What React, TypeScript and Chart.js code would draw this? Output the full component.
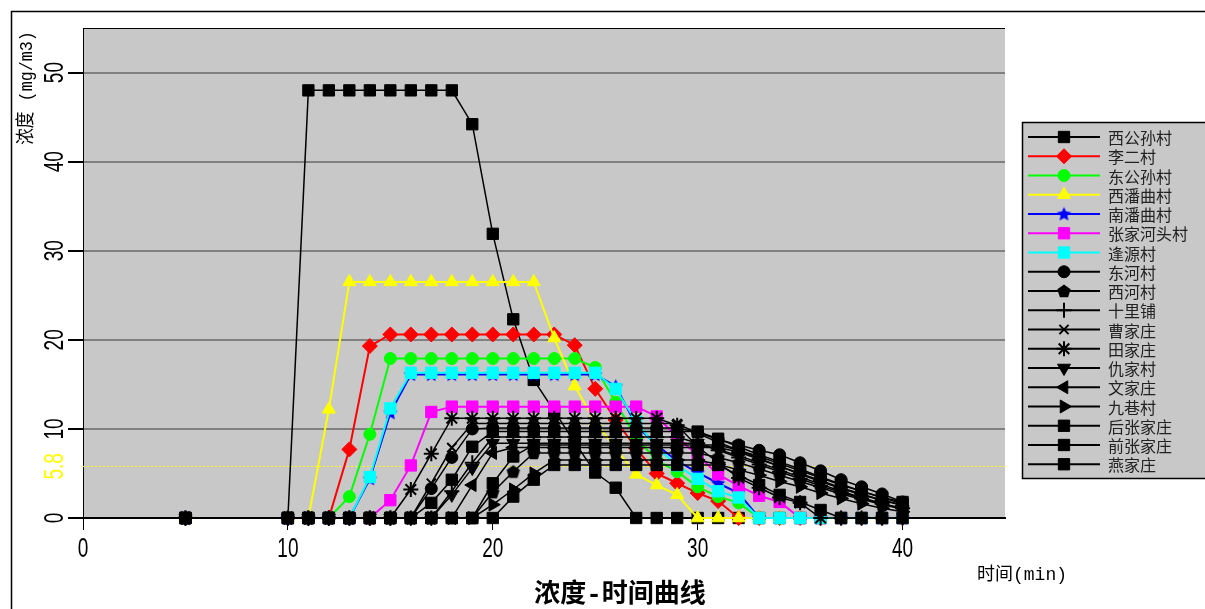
import React, { useEffect, useRef } from 'react';
import { Chart, registerables } from 'chart.js';
import { drawPoint } from 'chart.js/helpers';

Chart.register(...registerables);

// ---------- data ----------
const TIMES = [5, 10, 11, 12, 13, 14, 15, 16, 17, 18, 19, 20, 21, 22, 23, 24, 25, 26, 27, 28, 29, 30, 31, 32, 33, 34, 35, 36, 37, 38, 39, 40];
const X_TICKS = [0, 10, 20, 30, 40];
const Y_TICKS = [0, 10, 20, 30, 40, 50];
const THRESHOLD = 5.8;
const THRESHOLD_LABEL = '5.8';
const CHART_TITLE = '浓度-时间曲线';
const Y_TITLE = '浓度 (mg/m3)';
const X_TITLE = '时间(min)';

const XIGONGSUN = [0, 0, 48, 48, 48, 48, 48, 48, 48, 48, 44.2, 31.9, 22.3, 15.5, 12.0, 8.5, 5.1, 3.4, 0, 0, 0, 0, 0, 0, 0, 0, 0, 0, 0, 0, 0, 0];
const LIER = [0, 0, 0, 0, 7.7, 19.3, 20.6, 20.6, 20.6, 20.6, 20.6, 20.6, 20.6, 20.6, 20.6, 19.4, 14.5, 11.0, 7.8, 5.0, 3.9, 2.8, 1.9, 0, 0, 0, 0, 0, 0, 0, 0, 0];
const DONGGONGSUN = [0, 0, 0, 0, 2.4, 9.4, 17.9, 17.9, 17.9, 17.9, 17.9, 17.9, 17.9, 17.9, 17.9, 17.9, 16.9, 13.0, 9.0, 6.5, 5.2, 3.5, 2.4, 1.7, 0, 0, 0, 0, 0, 0, 0, 0];
const XIPANQU = [0, 0, 0, 12.2, 26.5, 26.5, 26.5, 26.5, 26.5, 26.5, 26.5, 26.5, 26.5, 26.5, 20.2, 14.8, 10.8, 7.8, 4.9, 3.7, 2.6, 0, 0, 0, 0, 0, 0, 0, 0, 0, 0, 0];
const NANPANQU = [0, 0, 0, 0, 0, 4.4, 11.8, 16.1, 16.1, 16.1, 16.1, 16.1, 16.1, 16.1, 16.1, 16.1, 16.1, 14.8, 10.4, 8.2, 6.4, 5.1, 3.9, 2.8, 0, 0, 0, 0, 0, 0, 0, 0];
const ZHANGJIAHETOU = [0, 0, 0, 0, 0, 0, 2.0, 5.9, 11.9, 12.5, 12.5, 12.5, 12.5, 12.5, 12.5, 12.5, 12.5, 12.5, 12.5, 11.4, 9.1, 7.0, 4.9, 3.6, 2.5, 1.8, 0, 0, 0, 0, 0, 0];
const FENGYUAN = [0, 0, 0, 0, 0, 4.6, 12.3, 16.3, 16.3, 16.3, 16.3, 16.3, 16.3, 16.3, 16.3, 16.3, 16.3, 14.5, 10.8, 7.9, 5.9, 4.4, 3.0, 2.3, 0, 0, 0, 0, 0, 0, 0, 0];
const DONGHE = [0, 0, 0, 0, 0, 0, 0, 0, 3.3, 6.8, 10.0, 10.1, 10.1, 10.1, 10.1, 10.1, 10.1, 10.1, 10.1, 10.1, 10.1, 9.6, 8.8, 8.2, 7.6, 7.1, 6.2, 5.3, 4.3, 3.5, 2.7, 1.8];
const XIHE = [0, 0, 0, 0, 0, 0, 0, 0, 0, 0, 0, 2.9, 5.2, 7.3, 7.3, 7.3, 7.3, 7.3, 7.3, 7.3, 7.3, 7.3, 6.8, 6.2, 5.5, 4.8, 4.1, 3.4, 2.7, 2.1, 1.5, 1.0];
const SHILIPU = [0, 0, 0, 0, 0, 0, 0, 0, 0, 3.0, 6.2, 9.1, 9.1, 9.1, 9.1, 9.1, 9.1, 9.1, 9.1, 9.1, 9.1, 8.4, 7.6, 6.8, 6.0, 5.2, 4.4, 3.6, 2.9, 2.2, 1.6, 1.1];
const CAOJIA = [0, 0, 0, 0, 0, 0, 0, 0, 3.9, 7.9, 10.6, 10.6, 10.6, 10.6, 10.6, 10.6, 10.6, 10.6, 10.6, 10.6, 10.6, 9.5, 8.5, 7.6, 6.7, 5.8, 4.9, 4.1, 3.3, 2.6, 2.0, 1.5];
const TIANJIA = [0, 0, 0, 0, 0, 0, 0, 3.2, 7.2, 11.2, 11.2, 11.2, 11.2, 11.2, 11.2, 11.2, 11.2, 11.2, 11.2, 11.2, 10.4, 8.0, 6.2, 4.5, 3.4, 2.3, 1.7, 0, 0, 0, 0, 0];
const QIUJIA = [0, 0, 0, 0, 0, 0, 0, 0, 0, 2.6, 5.6, 8.4, 8.4, 8.4, 8.4, 8.4, 8.4, 8.4, 8.4, 8.4, 8.4, 8.4, 7.7, 7.0, 6.2, 5.4, 4.6, 3.8, 3.0, 2.3, 1.6, 1.0];
const WENJIA = [0, 0, 0, 0, 0, 0, 0, 0, 0, 0, 3.7, 7.3, 7.9, 7.9, 7.9, 7.9, 7.9, 7.9, 7.9, 7.9, 7.9, 7.9, 7.9, 7.4, 6.6, 5.8, 5.0, 4.2, 3.4, 2.7, 2.0, 1.4];
const JIUXIANG = [0, 0, 0, 0, 0, 0, 0, 0, 0, 0, 0, 1.5, 3.2, 5.0, 6.5, 6.5, 6.5, 6.5, 6.5, 6.5, 6.5, 6.5, 6.0, 5.4, 4.8, 4.1, 3.5, 2.8, 2.2, 1.6, 1.1, 0.7];
const HOUZHANGJIA = [0, 0, 0, 0, 0, 0, 0, 0, 1.7, 4.3, 8.0, 9.7, 9.7, 9.7, 9.7, 9.7, 9.7, 9.7, 9.7, 9.7, 9.7, 9.7, 8.9, 8.0, 7.1, 6.3, 5.5, 4.6, 3.8, 3.0, 2.3, 1.8];
const QIANZHANGJIA = [0, 0, 0, 0, 0, 0, 0, 0, 0, 0, 0, 3.9, 6.9, 8.2, 8.2, 8.2, 8.2, 8.2, 8.2, 8.2, 8.2, 8.2, 8.2, 7.6, 6.9, 6.1, 5.3, 4.5, 3.7, 3.0, 2.3, 1.6];
const YANJIA = [0, 0, 0, 0, 0, 0, 0, 0, 0, 0, 0, 0, 2.4, 4.3, 5.95, 5.95, 5.95, 5.95, 5.95, 5.95, 5.95, 5.95, 5.95, 4.8, 3.7, 2.6, 1.8, 0.9, 0, 0, 0, 0];

const SERIES_NAMES = ['西公孙村', '李二村', '东公孙村', '西潘曲村', '南潘曲村', '张家河头村', '逢源村', '东河村', '西河村', '十里铺', '曹家庄', '田家庄', '仇家村', '文家庄', '九巷村', '后张家庄', '前张家庄', '燕家庄'];
const SERIES_VALUES = [XIGONGSUN, LIER, DONGGONGSUN, XIPANQU, NANPANQU, ZHANGJIAHETOU, FENGYUAN, DONGHE, XIHE, SHILIPU, CAOJIA, TIANJIA, QIUJIA, WENJIA, JIUXIANG, HOUZHANGJIA, QIANZHANGJIA, YANJIA];
const SERIES_COLORS = ['#000000', '#ff0000', '#00ff00', '#ffff00', '#0000ff', '#ff00ff', '#00ffff', '#000000', '#000000', '#000000', '#000000', '#000000', '#000000', '#000000', '#000000', '#000000', '#000000', '#000000'];
const SERIES_MARKERS = ['rect', 'rectRot', 'circle', 'triangle', 'fillstar', 'rect', 'rect', 'circle', 'pentagon', 'cross', 'crossRot', 'star', 'triangle', 'triangle', 'triangle', 'rect', 'rect', 'rect'];
const SERIES_ROTATIONS = [0, 0, 0, 0, 0, 0, 0, 0, 0, 0, 0, 0, 180, 270, 90, 0, 0, 0];

// ---------- style ----------
const PLOT_BG = '#c8c8c8';
const GRID_COLOR = '#808080';

function markerRadius(style: string): number {
  switch (style) {
    case 'rect': return 8;
    case 'rectRot': return 7.5;
    case 'circle': return 6;
    case 'triangle': return 7.5;
    case 'cross': return 7.5;
    case 'crossRot': return 6.5;
    case 'star': return 7.5;
    default: return 6;
  }
}

function markerBorder(style: string): number {
  return style === 'cross' || style === 'crossRot' || style === 'star' ? 2 : 1;
}

function makeFilledStar(color: string, r: number): HTMLCanvasElement {
  const size = Math.ceil(r * 2 + 2);
  const c = document.createElement('canvas');
  c.width = size;
  c.height = size;
  const g = c.getContext('2d')!;
  g.fillStyle = color;
  g.beginPath();
  for (let i = 0; i < 10; i++) {
    const a = -Math.PI / 2 + (i * Math.PI) / 5;
    const rr = i % 2 === 0 ? r : r * 0.48;
    const px = size / 2 + Math.cos(a) * rr;
    const py = size / 2 + Math.sin(a) * rr + 0.5;
    if (i === 0) g.moveTo(px, py);
    else g.lineTo(px, py);
  }
  g.closePath();
  g.fill();
  return c;
}

function makePentagon(color: string, r: number): HTMLCanvasElement {
  const size = Math.ceil(r * 2 + 2);
  const c = document.createElement('canvas');
  c.width = size;
  c.height = size;
  const g = c.getContext('2d')!;
  g.fillStyle = color;
  g.beginPath();
  for (let i = 0; i < 5; i++) {
    const a = -Math.PI / 2 + (i * 2 * Math.PI) / 5;
    const px = size / 2 + Math.cos(a) * r;
    const py = size / 2 + Math.sin(a) * r + 0.5;
    if (i === 0) g.moveTo(px, py);
    else g.lineTo(px, py);
  }
  g.closePath();
  g.fill();
  return c;
}

function condensedText(ctx: CanvasRenderingContext2D, text: string, x: number, y: number, rot: number, sx: number) {
  ctx.save();
  ctx.translate(x, y);
  ctx.rotate(rot);
  ctx.scale(sx, 1);
  ctx.fillText(text, 0, 0);
  ctx.restore();
}

export default function App() {
  const canvasRef = useRef<HTMLCanvasElement | null>(null);

  useEffect(() => {
    const canvas = canvasRef.current;
    if (!canvas) return;

    const starImg = makeFilledStar('#0000ff', 7.5);
    const pentImg = makePentagon('#000000', 7);
    const resolveStyle = (s: string): any => (s === 'fillstar' ? starImg : s === 'pentagon' ? pentImg : s);

    const datasets = SERIES_NAMES.map((name, i) => {
      const color = SERIES_COLORS[i];
      const marker = SERIES_MARKERS[i];
      return {
        label: name,
        data: TIMES.map((t, j) => ({ x: t, y: SERIES_VALUES[i][j] })),
        borderColor: color,
        backgroundColor: color,
        pointBackgroundColor: color,
        pointBorderColor: color,
        pointStyle: resolveStyle(marker),
        pointRadius: markerRadius(marker),
        pointRotation: SERIES_ROTATIONS[i],
        pointBorderWidth: markerBorder(marker),
        borderWidth: color === '#000000' ? 1.5 : 2,
        tension: 0,
        clip: false as any,
        order: -i,
      };
    });

    const decor = {
      id: 'decor',
      beforeDraw(chart: any) {
        const { ctx, chartArea: a } = chart;
        ctx.save();
        ctx.fillStyle = '#ffffff';
        ctx.fillRect(0, 0, chart.width, chart.height);
        ctx.fillStyle = PLOT_BG;
        ctx.fillRect(a.left, a.top, a.right - a.left, a.bottom - a.top);
        ctx.restore();
      },
      beforeDatasetsDraw(chart: any) {
        const { ctx, chartArea: a, scales } = chart;
        const y = Math.round(scales.y.getPixelForValue(THRESHOLD)) + 0.5;
        ctx.save();
        ctx.strokeStyle = '#ffff00';
        ctx.lineWidth = 1;
        ctx.setLineDash([2, 2]);
        ctx.beginPath();
        ctx.moveTo(a.left, y);
        ctx.lineTo(a.right, y);
        ctx.stroke();
        ctx.setLineDash([]);
        ctx.strokeStyle = '#000000';
        ctx.beginPath();
        ctx.moveTo(a.left, a.top + 0.5);
        ctx.lineTo(a.right, a.top + 0.5);
        ctx.stroke();
        ctx.restore();
      },
      afterDraw(chart: any) {
        const { ctx, chartArea: a, scales } = chart;
        ctx.save();
        // y tick labels (rotated, condensed)
        ctx.fillStyle = '#000000';
        ctx.font = '28px "Liberation Sans", Arial, sans-serif';
        ctx.textAlign = 'center';
        ctx.textBaseline = 'alphabetic';
        Y_TICKS.forEach((v) => {
          condensedText(ctx, String(v), 63, scales.y.getPixelForValue(v), -Math.PI / 2, 0.68);
        });
        ctx.fillStyle = '#ffff00';
        condensedText(ctx, THRESHOLD_LABEL, 63, scales.y.getPixelForValue(THRESHOLD), -Math.PI / 2, 0.68);
        // x tick labels
        ctx.fillStyle = '#000000';
        X_TICKS.forEach((v) => {
          condensedText(ctx, String(v), scales.x.getPixelForValue(v), a.bottom + 39, 0, 0.68);
        });
        // y title
        ctx.font = '19px "Liberation Mono", "Noto Sans CJK SC", monospace';
        ctx.textAlign = 'center';
        ctx.textBaseline = 'middle';
        ctx.save();
        ctx.translate(27, 88);
        ctx.rotate(-Math.PI / 2);
        ctx.scale(0.88, 1);
        ctx.fillText(Y_TITLE, 0, 0);
        ctx.restore();
        // x title
        ctx.font = '18px "Liberation Mono", "Noto Sans CJK SC", monospace';
        ctx.textAlign = 'left';
        ctx.fillText(X_TITLE, 977, 575);
        // chart title
        ctx.font = 'bold 26px "Liberation Mono", "Noto Sans CJK SC", monospace';
        ctx.textAlign = 'center';
        ctx.fillText(CHART_TITLE, 620, 595);

        // legend
        const lx = 1022, ly = 122, lh = 356;
        ctx.fillStyle = PLOT_BG;
        ctx.fillRect(lx, ly, 400, lh);
        ctx.strokeStyle = '#000000';
        ctx.lineWidth = 1.5;
        ctx.strokeRect(lx + 0.5, ly + 0.5, 400, lh);
        const rowH = 19.25;
        chart.data.datasets.forEach((ds: any, i: number) => {
          const y = ly + 15 + i * rowH;
          ctx.strokeStyle = ds.borderColor;
          ctx.lineWidth = 2;
          ctx.beginPath();
          ctx.moveTo(1028, y);
          ctx.lineTo(1100, y);
          ctx.stroke();
          ctx.fillStyle = ds.pointBackgroundColor;
          ctx.strokeStyle = ds.pointBorderColor;
          ctx.lineWidth = ds.pointBorderWidth;
          drawPoint(ctx, { pointStyle: ds.pointStyle, radius: ds.pointRadius, rotation: ds.pointRotation, borderWidth: ds.pointBorderWidth } as any, 1064, y);
          ctx.fillStyle = '#222222';
          ctx.font = '16px "Noto Sans CJK SC", sans-serif';
          ctx.textAlign = 'left';
          ctx.textBaseline = 'middle';
          ctx.fillText(ds.label, 1108, y + 1);
        });

        // outer frame
        ctx.strokeStyle = '#000000';
        ctx.lineWidth = 1.5;
        ctx.strokeRect(11.5, 11.5, 1400, 800);
        ctx.restore();
      },
    };

    const chart = new Chart(canvas, {
      type: 'line',
      data: { datasets: datasets as any },
      options: {
        responsive: false,
        animation: false,
        devicePixelRatio: 1,
        events: [],
        layout: { padding: { left: 0, top: 28, right: 200, bottom: 0 } },
        plugins: { legend: { display: false }, tooltip: { enabled: false }, title: { display: false } },
        scales: {
          x: {
            type: 'linear',
            min: 0,
            max: 45,
            afterBuildTicks: (s: any) => { s.ticks = X_TICKS.map((v) => ({ value: v })); },
            afterFit: (s: any) => { s.height = 91; },
            ticks: { display: false },
            grid: { display: true, drawOnChartArea: false, drawTicks: true, tickLength: 12, color: '#000000', lineWidth: 1 },
            border: { display: true, color: '#000000', width: 2 },
          },
          y: {
            type: 'linear',
            min: 0,
            max: 55,
            afterBuildTicks: (s: any) => { s.ticks = Y_TICKS.map((v) => ({ value: v })); },
            afterFit: (s: any) => { s.width = 83; },
            ticks: { display: false },
            grid: {
              color: (c: any) => (c.tick && c.tick.value === 0 ? 'rgba(0,0,0,0)' : GRID_COLOR),
              lineWidth: 2,
              drawTicks: true,
              tickLength: 15,
              tickColor: '#000000',
            },
            border: { display: true, color: '#000000', width: 1 },
          },
        },
      } as any,
      plugins: [decor],
    });

    return () => chart.destroy();
  }, []);

  return (
    <div style={{ position: 'fixed', left: 0, top: 0, width: 1205, height: 609, background: '#ffffff', overflow: 'hidden' }}>
      <canvas ref={canvasRef} width={1205} height={609} style={{ display: 'block', width: 1205, height: 609 }} />
    </div>
  );
}
